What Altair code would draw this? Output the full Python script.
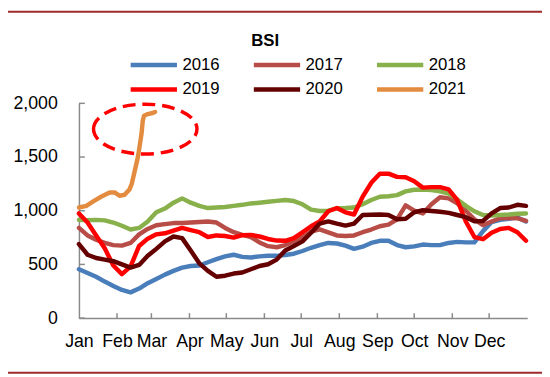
import altair as alt
import pandas as pd

# ---------------- data ----------------
years = ["2016", "2017", "2018", "2019", "2020", "2021"]
colors = ["#4A7EBB", "#B84C47", "#88B04B", "#FF0000", "#640000", "#E38B3F"]

days = [0, 7, 14, 21, 28, 35, 42, 49, 56, 63,
        70, 77, 84, 91, 98, 105, 112, 119, 126, 133,
        140, 147, 154, 161, 168, 175, 182, 189, 196, 203,
        210, 217, 224, 231, 238, 245, 252, 259, 266, 273,
        280, 287, 294, 301, 308, 315, 322, 329, 336, 343,
        350, 357, 364]

bsi_2016 = [455, 420, 385, 340, 300, 262, 240, 275, 325, 365,
            405, 440, 470, 485, 490, 520, 550, 575, 590, 570,
            565, 575, 580, 580, 588, 600, 625, 655, 680, 700,
            695, 675, 645, 665, 700, 720, 720, 680, 660, 668,
            685, 680, 680, 700, 710, 705, 705, 810, 895, 915,
            925, 938, 900]

bsi_2017 = [840, 770, 730, 700, 680, 675, 700, 780, 830, 865,
            875, 885, 885, 890, 895, 900, 890, 840, 800, 775,
            755, 705, 670, 660, 680, 715, 755, 805, 826, 798,
            770, 764, 770, 800, 825, 855, 870, 920, 1050, 1000,
            975, 1060, 1125, 1115, 1070, 1000, 920, 865, 900, 930,
            933, 930, 905]

bsi_2018 = [915, 912, 915, 910, 890, 860, 825, 840, 900, 985,
            1020, 1075, 1115, 1075, 1045, 1025, 1030, 1035, 1045, 1055,
            1068, 1075, 1083, 1092, 1100, 1090, 1060, 1010, 998, 1000,
            1022, 1025, 1030, 1060, 1100, 1130, 1135, 1145, 1180, 1195,
            1198, 1192, 1180, 1160, 1105, 1045, 995, 960, 955, 960,
            965, 972, 975]

bsi_2019 = [975, 890, 770, 650, 490, 410, 480, 672, 740, 780,
            790, 815, 840, 820, 800, 755, 770, 765, 750, 772,
            775, 760, 737, 722, 720, 745, 800, 855, 900, 995,
            1025, 985, 965, 1130, 1260, 1345, 1345, 1315, 1312, 1275,
            1215, 1220, 1220, 1198, 1100, 900, 755, 735, 795, 830,
            840, 800, 720]

bsi_2020 = [690, 590, 560, 545, 530, 500, 470, 495, 580, 645,
            715, 760, 745, 630, 510, 440, 385, 395, 415, 425,
            455, 485, 502, 545, 630, 672, 715, 795, 880, 900,
            880, 862, 880, 960, 963, 965, 960, 920, 925, 985,
            1005, 998, 990, 980, 960, 940, 902, 905, 975, 1025,
            1030, 1055, 1045]

days_2021 = [0, 6, 12, 18, 25, 29, 33, 37, 41, 43,
             45, 47, 48, 49, 51, 52, 53, 56, 60, 62]
bsi_2021 = [1030, 1045, 1090, 1130, 1170, 1170, 1140, 1148, 1195, 1250,
            1350, 1450, 1500, 1570, 1720, 1840, 1885, 1900, 1910, 1920]

# highlight ellipse centre (day, value)
ellipse_day = [54]
ellipse_value = [1760]

month_names = ["Jan", "Feb", "Mar", "Apr", "May", "Jun",
               "Jul", "Aug", "Sep", "Oct", "Nov", "Dec"]
month_starts = [0, 31, 59, 90, 120, 151, 181, 212, 243, 273, 304, 334]
y_ticks = [0, 500, 1000, 1500, 2000]

# ---------------- build table ----------------
rows = []
for yr, vals in zip(years[:5], [bsi_2016, bsi_2017, bsi_2018, bsi_2019, bsi_2020]):
    for d, v in zip(days, vals):
        rows.append({"day": d, "value": v, "year": yr})
for d, v in zip(days_2021, bsi_2021):
    rows.append({"day": d, "value": v, "year": "2021"})
df = pd.DataFrame(rows)

W, H = 455, 218
GRAY = "#8A8A8A"
FONT = "Liberation Sans"

x_scale = alt.Scale(domain=[0, 365], nice=False, zero=False)
y_scale = alt.Scale(domain=[0, 2000], nice=False)

label_expr = ("[" + ",".join("'%s'" % m for m in month_names) + "][indexof(["
              + ",".join(str(d) for d in month_starts) + "], datum.value)]")

x_axis = alt.Axis(values=month_starts, labelExpr=label_expr, title=None, ticks=False,
                  grid=False, domainColor=GRAY, domainWidth=1.5, labelFontSize=18,
                  labelColor="black", labelPadding=15, labelFlush=False,
                  labelOverlap=False, labelBound=False)
y_axis = alt.Axis(values=y_ticks, format=",d", title=None, ticks=False, grid=False,
                  domainColor=GRAY, domainWidth=1.5, labelFontSize=18,
                  labelColor="black", labelPadding=22)

X = lambda f: alt.X(f, scale=x_scale, axis=x_axis)
Y = lambda f: alt.Y(f, scale=y_scale, axis=y_axis)

lines = alt.Chart(df).mark_line(strokeWidth=4.5, strokeCap="round", strokeJoin="round").encode(
    x=X("day:Q"),
    y=Y("value:Q"),
    color=alt.Color(
        "year:N",
        scale=alt.Scale(domain=years, range=colors),
        legend=alt.Legend(
            orient="none", legendX=64, legendY=-51, columns=3, direction="horizontal",
            title=None, symbolType="M -2.5 0 H 2.5", symbolSize=353, symbolStrokeWidth=4.5,
            labelFontSize=17, labelFont=FONT, labelColor="black", labelOffset=17,
            columnPadding=25, rowPadding=4, padding=0,
        ),
    ),
)

xticks = alt.Chart(pd.DataFrame({"day": month_starts[1:]})).mark_rule(
    color=GRAY, strokeWidth=1.5
).encode(x=X("day:Q"), y=alt.value(H), y2=alt.value(H - 5))

yticks = alt.Chart(pd.DataFrame({"value": y_ticks})).mark_rule(
    color=GRAY, strokeWidth=1.5
).encode(y=Y("value:Q"), x=alt.value(0), x2=alt.value(6))

k = 0.5523
ry = 0.482
ellipse_path = (
    "M -1 0 C -1 {a} -{k} -{r} 0 -{r} C {k} -{r} 1 {a} 1 0 "
    "C 1 {b} {k} {r} 0 {r} C -{k} {r} -1 {b} -1 0 Z"
).format(a=-round(ry * k, 3), b=round(ry * k, 3), k=k, r=ry)

ellipse = alt.Chart(pd.DataFrame({"day": ellipse_day, "value": ellipse_value})).mark_point(
    shape=ellipse_path, size=11025, filled=False, color="#FF0000", strokeWidth=3.5,
    strokeDash=[13, 7], opacity=1
).encode(x=X("day:Q"), y=Y("value:Q"))

title = alt.Chart(pd.DataFrame({"t": ["BSI"]})).mark_text(
    fontSize=17, fontWeight="bold", align="center", baseline="alphabetic",
    font=FONT, color="black"
).encode(text="t:N", x=alt.value(189), y=alt.value(-58))

frame_df = pd.DataFrame({"k": [0]})
top_rule = alt.Chart(frame_df).mark_rule(color="#9E2A2B", strokeWidth=2).encode(
    x=alt.value(-72), x2=alt.value(W + 15), y=alt.value(-93))
bottom_rule = alt.Chart(frame_df).mark_rule(color="#9E2A2B", strokeWidth=2).encode(
    x=alt.value(-72), x2=alt.value(W + 15), y=alt.value(273.5))

chart = alt.layer(
    xticks, yticks, lines, ellipse, title, top_rule, bottom_rule
).properties(
    width=W, height=H,
    padding={"left": 72, "top": 94, "right": 15, "bottom": 57},
    autosize=alt.AutoSizeParams(type="none"),
).configure(font=FONT).configure_view(strokeWidth=0)

chart.save("out.html", embed_options={"renderer": "svg", "actions": False})
